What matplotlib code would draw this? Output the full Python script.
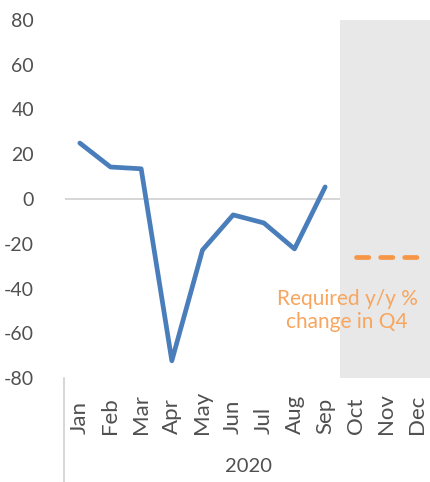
import matplotlib
matplotlib.use("Agg")
import matplotlib.pyplot as plt
import numpy as np

plt.rcParams["font.family"] = ["Lato", "DejaVu Sans"]
plt.rcParams["axes.unicode_minus"] = False

months = ["Jan", "Feb", "Mar", "Apr", "May", "Jun", "Jul", "Aug", "Sep", "Oct", "Nov", "Dec"]
yoy = [25.0, 14.3, 13.5, -72.3, -22.8, -7.1, -10.7, -22.3, 5.4]
required_q4 = [-25.8, -25.8, -25.8]
year_label = "2020"

W, H = 430, 482
fig = plt.figure(figsize=(W / 100, H / 100), dpi=100)
ax = fig.add_axes([64.5 / W, 1 - 378 / H, 368 / W, 358 / H])

x = np.arange(len(months))
ax.axvspan(8.5, 11.5, color="#E8E8E8", zorder=1, lw=0)
ax.axhline(0, color="#D0D0D0", lw=1.2, zorder=0.5)
ax.plot(x[:len(yoy)], yoy, color="#4A7EBB", lw=3.4, zorder=3,
        solid_joinstyle="round", solid_capstyle="round")
ax.plot(x[9:12], required_q4, color="#F79646", lw=3.4, ls=(0, (2.6, 2.5)),
        dash_capstyle="round", zorder=3)
ax.text(8.72, -50, "Required y/y %\nchange in Q4", ha="center", va="center",
        fontsize=15, color="#F8A55E", linespacing=1.2, zorder=4)

ax.set_xlim(-0.5, 11.5)
ax.set_ylim(-80, 80)
ax.set_yticks(range(-80, 81, 20))
ax.tick_params(axis="y", length=0, labelsize=14, labelcolor="#505050", pad=22)
ax.set_xticks(x)
ax.set_xticklabels(months, rotation=90, fontsize=16, color="#505050", va="bottom")
ax.tick_params(axis="x", length=0, pad=40)
for s in ax.spines.values():
    s.set_visible(False)

# multi-level category separator and year label
fig.add_artist(plt.Line2D([64 / W, 64 / W], [0, 1 - 378 / H], color="#D0D0D0", lw=1.2))
fig.text(248 / W, 1 - 466 / H, year_label, ha="center", va="center",
         fontsize=14.5, color="#505050")

fig.savefig("out.png", dpi=100)
